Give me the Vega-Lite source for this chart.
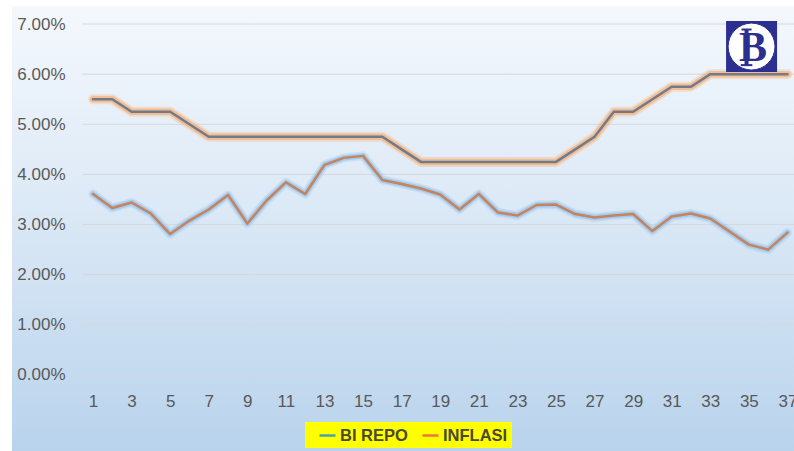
{
  "$schema": "https://vega.github.io/schema/vega-lite/v6.json",
  "width": 782,
  "height": 445,
  "autosize": {"type": "none"},
  "padding": {"left": 12, "top": 6, "right": 0, "bottom": 0},
  "background": "#ffffff",
  "config": {
    "font": "Liberation Sans",
    "view": {
      "stroke": null,
      "fill": {
        "gradient": "linear", "x1": 0, "y1": 0, "x2": 0, "y2": 1,
        "stops": [
          {"offset": 0, "color": "#f4f8fd"},
          {"offset": 0.45, "color": "#dce9f6"},
          {"offset": 1, "color": "#b9d3ec"}
        ]
      }
    },
    "axis": {
      "title": null, "ticks": false, "domain": false, "grid": false,
      "labelFontSize": 17, "labelColor": "#595959", "labelFont": "Liberation Sans"
    },
    "axisX": {"offset": -76, "labelPadding": 18, "labelFlush": false, "labelOverlap": false, "labelBound": false},
    "axisY": {"offset": -71, "labelPadding": 18},
    "legend": {
      "direction": "horizontal",
      "fillColor": "#ffff00",
      "padding": 4,
      "symbolType": "stroke",
      "symbolSize": 256,
      "symbolStrokeWidth": 2.5,
      "symbolOffset": 9,
      "labelFont": "Liberation Sans",
      "labelFontWeight": "bold",
      "labelFontSize": 16.5,
      "labelColor": "#4a4a30",
      "labelOffset": 3,
      "columnPadding": 4
    }
  },
  "datasets": {
    "series": [
      {"x": 1, "series": "BI REPO", "value": 0.055},
      {"x": 2, "series": "BI REPO", "value": 0.055},
      {"x": 3, "series": "BI REPO", "value": 0.0525},
      {"x": 4, "series": "BI REPO", "value": 0.0525},
      {"x": 5, "series": "BI REPO", "value": 0.0525},
      {"x": 6, "series": "BI REPO", "value": 0.05},
      {"x": 7, "series": "BI REPO", "value": 0.0475},
      {"x": 8, "series": "BI REPO", "value": 0.0475},
      {"x": 9, "series": "BI REPO", "value": 0.0475},
      {"x": 10, "series": "BI REPO", "value": 0.0475},
      {"x": 11, "series": "BI REPO", "value": 0.0475},
      {"x": 12, "series": "BI REPO", "value": 0.0475},
      {"x": 13, "series": "BI REPO", "value": 0.0475},
      {"x": 14, "series": "BI REPO", "value": 0.0475},
      {"x": 15, "series": "BI REPO", "value": 0.0475},
      {"x": 16, "series": "BI REPO", "value": 0.0475},
      {"x": 17, "series": "BI REPO", "value": 0.045},
      {"x": 18, "series": "BI REPO", "value": 0.0425},
      {"x": 19, "series": "BI REPO", "value": 0.0425},
      {"x": 20, "series": "BI REPO", "value": 0.0425},
      {"x": 21, "series": "BI REPO", "value": 0.0425},
      {"x": 22, "series": "BI REPO", "value": 0.0425},
      {"x": 23, "series": "BI REPO", "value": 0.0425},
      {"x": 24, "series": "BI REPO", "value": 0.0425},
      {"x": 25, "series": "BI REPO", "value": 0.0425},
      {"x": 26, "series": "BI REPO", "value": 0.045},
      {"x": 27, "series": "BI REPO", "value": 0.0475},
      {"x": 28, "series": "BI REPO", "value": 0.0525},
      {"x": 29, "series": "BI REPO", "value": 0.0525},
      {"x": 30, "series": "BI REPO", "value": 0.055},
      {"x": 31, "series": "BI REPO", "value": 0.0575},
      {"x": 32, "series": "BI REPO", "value": 0.0575},
      {"x": 33, "series": "BI REPO", "value": 0.06},
      {"x": 34, "series": "BI REPO", "value": 0.06},
      {"x": 35, "series": "BI REPO", "value": 0.06},
      {"x": 36, "series": "BI REPO", "value": 0.06},
      {"x": 37, "series": "BI REPO", "value": 0.06},
      {"x": 1, "series": "INFLASI", "value": 0.0361},
      {"x": 2, "series": "INFLASI", "value": 0.0333},
      {"x": 3, "series": "INFLASI", "value": 0.0344},
      {"x": 4, "series": "INFLASI", "value": 0.0322},
      {"x": 5, "series": "INFLASI", "value": 0.0281},
      {"x": 6, "series": "INFLASI", "value": 0.0308},
      {"x": 7, "series": "INFLASI", "value": 0.033},
      {"x": 8, "series": "INFLASI", "value": 0.0359},
      {"x": 9, "series": "INFLASI", "value": 0.0302},
      {"x": 10, "series": "INFLASI", "value": 0.0348},
      {"x": 11, "series": "INFLASI", "value": 0.0384},
      {"x": 12, "series": "INFLASI", "value": 0.0361},
      {"x": 13, "series": "INFLASI", "value": 0.0419},
      {"x": 14, "series": "INFLASI", "value": 0.0433},
      {"x": 15, "series": "INFLASI", "value": 0.0437},
      {"x": 16, "series": "INFLASI", "value": 0.0389},
      {"x": 17, "series": "INFLASI", "value": 0.0381},
      {"x": 18, "series": "INFLASI", "value": 0.0372},
      {"x": 19, "series": "INFLASI", "value": 0.036},
      {"x": 20, "series": "INFLASI", "value": 0.033},
      {"x": 21, "series": "INFLASI", "value": 0.0361},
      {"x": 22, "series": "INFLASI", "value": 0.0324},
      {"x": 23, "series": "INFLASI", "value": 0.0318},
      {"x": 24, "series": "INFLASI", "value": 0.0339},
      {"x": 25, "series": "INFLASI", "value": 0.034},
      {"x": 26, "series": "INFLASI", "value": 0.0321},
      {"x": 27, "series": "INFLASI", "value": 0.0314},
      {"x": 28, "series": "INFLASI", "value": 0.0318},
      {"x": 29, "series": "INFLASI", "value": 0.0321},
      {"x": 30, "series": "INFLASI", "value": 0.0287},
      {"x": 31, "series": "INFLASI", "value": 0.0316},
      {"x": 32, "series": "INFLASI", "value": 0.0322},
      {"x": 33, "series": "INFLASI", "value": 0.0312},
      {"x": 34, "series": "INFLASI", "value": 0.0286},
      {"x": 35, "series": "INFLASI", "value": 0.026},
      {"x": 36, "series": "INFLASI", "value": 0.025},
      {"x": 37, "series": "INFLASI", "value": 0.0284}
    ],
    "grid": [
      {"value": 0}, {"value": 0.01}, {"value": 0.02}, {"value": 0.03},
      {"value": 0.04}, {"value": 0.05}, {"value": 0.06}, {"value": 0.07}
    ],
    "logo": [{"name": "BI"}]
  },
  "layer": [
    {
      "data": {"name": "grid"},
      "mark": {"type": "rule", "stroke": "#d3d9e0", "strokeWidth": 1},
      "encoding": {
        "x": {"datum": 0.45, "type": "quantitative", "scale": {"domain": [-3.2, 37.34], "nice": false, "zero": false}, "axis": {"values": [1,3,5,7,9,11,13,15,17,19,21,23,25,27,29,31,33,35,37], "format": "d"}},
        "x2": {"datum": 37.6},
        "y": {"field": "value", "type": "quantitative", "scale": {"domain": [-0.01516, 0.07359], "nice": false, "zero": false}, "axis": {"values": [0, 0.01, 0.02, 0.03, 0.04, 0.05, 0.06, 0.07], "format": ".2%"}}
      }
    },
    {
      "data": {"name": "series"},
      "transform": [{"filter": "datum.series === 'BI REPO'"}],
      "mark": {"type": "line", "stroke": "#f5b98a", "strokeWidth": 10, "opacity": 0.35, "strokeJoin": "round", "strokeCap": "round"},
      "encoding": {
        "x": {"field": "x", "type": "quantitative", "scale": {"domain": [-3.2, 37.34], "nice": false, "zero": false}, "axis": {"values": [1,3,5,7,9,11,13,15,17,19,21,23,25,27,29,31,33,35,37], "format": "d"}},
        "y": {"field": "value", "type": "quantitative", "scale": {"domain": [-0.01516, 0.07359], "nice": false, "zero": false}, "axis": {"values": [0, 0.01, 0.02, 0.03, 0.04, 0.05, 0.06, 0.07], "format": ".2%"}}
      }
    },
    {
      "data": {"name": "series"},
      "transform": [{"filter": "datum.series === 'BI REPO'"}],
      "mark": {"type": "line", "stroke": "#f5b98a", "strokeWidth": 6.5, "opacity": 0.9, "strokeJoin": "round", "strokeCap": "round"},
      "encoding": {
        "x": {"field": "x", "type": "quantitative", "scale": {"domain": [-3.2, 37.34], "nice": false, "zero": false}, "axis": {"values": [1,3,5,7,9,11,13,15,17,19,21,23,25,27,29,31,33,35,37], "format": "d"}},
        "y": {"field": "value", "type": "quantitative", "scale": {"domain": [-0.01516, 0.07359], "nice": false, "zero": false}, "axis": {"values": [0, 0.01, 0.02, 0.03, 0.04, 0.05, 0.06, 0.07], "format": ".2%"}}
      }
    },
    {
      "data": {"name": "series"},
      "transform": [{"filter": "datum.series === 'BI REPO'"}],
      "mark": {"type": "line", "stroke": "#6e7c90", "strokeWidth": 2.5, "strokeJoin": "round", "strokeCap": "round"},
      "encoding": {
        "x": {"field": "x", "type": "quantitative", "scale": {"domain": [-3.2, 37.34], "nice": false, "zero": false}, "axis": {"values": [1,3,5,7,9,11,13,15,17,19,21,23,25,27,29,31,33,35,37], "format": "d"}},
        "y": {"field": "value", "type": "quantitative", "scale": {"domain": [-0.01516, 0.07359], "nice": false, "zero": false}, "axis": {"values": [0, 0.01, 0.02, 0.03, 0.04, 0.05, 0.06, 0.07], "format": ".2%"}}
      }
    },
    {
      "data": {"name": "series"},
      "transform": [{"filter": "datum.series === 'INFLASI'"}],
      "mark": {"type": "line", "stroke": "#9fc9ef", "strokeWidth": 9, "opacity": 0.35, "strokeJoin": "round", "strokeCap": "round"},
      "encoding": {
        "x": {"field": "x", "type": "quantitative", "scale": {"domain": [-3.2, 37.34], "nice": false, "zero": false}, "axis": {"values": [1,3,5,7,9,11,13,15,17,19,21,23,25,27,29,31,33,35,37], "format": "d"}},
        "y": {"field": "value", "type": "quantitative", "scale": {"domain": [-0.01516, 0.07359], "nice": false, "zero": false}, "axis": {"values": [0, 0.01, 0.02, 0.03, 0.04, 0.05, 0.06, 0.07], "format": ".2%"}}
      }
    },
    {
      "data": {"name": "series"},
      "transform": [{"filter": "datum.series === 'INFLASI'"}],
      "mark": {"type": "line", "stroke": "#9fc9ef", "strokeWidth": 5.5, "opacity": 0.9, "strokeJoin": "round", "strokeCap": "round"},
      "encoding": {
        "x": {"field": "x", "type": "quantitative", "scale": {"domain": [-3.2, 37.34], "nice": false, "zero": false}, "axis": {"values": [1,3,5,7,9,11,13,15,17,19,21,23,25,27,29,31,33,35,37], "format": "d"}},
        "y": {"field": "value", "type": "quantitative", "scale": {"domain": [-0.01516, 0.07359], "nice": false, "zero": false}, "axis": {"values": [0, 0.01, 0.02, 0.03, 0.04, 0.05, 0.06, 0.07], "format": ".2%"}}
      }
    },
    {
      "data": {"name": "series"},
      "transform": [{"filter": "datum.series === 'INFLASI'"}],
      "mark": {"type": "line", "stroke": "#c8835a", "strokeWidth": 2.5, "strokeJoin": "round", "strokeCap": "round"},
      "encoding": {
        "x": {"field": "x", "type": "quantitative", "scale": {"domain": [-3.2, 37.34], "nice": false, "zero": false}, "axis": {"values": [1,3,5,7,9,11,13,15,17,19,21,23,25,27,29,31,33,35,37], "format": "d"}},
        "y": {"field": "value", "type": "quantitative", "scale": {"domain": [-0.01516, 0.07359], "nice": false, "zero": false}, "axis": {"values": [0, 0.01, 0.02, 0.03, 0.04, 0.05, 0.06, 0.07], "format": ".2%"}}
      }
    },
    {
      "data": {"name": "series"},
      "transform": [{"filter": "false"}],
      "mark": {"type": "line", "strokeWidth": 2},
      "encoding": {
        "x": {"field": "x", "type": "quantitative", "scale": {"domain": [-3.2, 37.34], "nice": false, "zero": false}, "axis": {"values": [1,3,5,7,9,11,13,15,17,19,21,23,25,27,29,31,33,35,37], "format": "d"}},
        "y": {"field": "value", "type": "quantitative", "scale": {"domain": [-0.01516, 0.07359], "nice": false, "zero": false}, "axis": {"values": [0, 0.01, 0.02, 0.03, 0.04, 0.05, 0.06, 0.07], "format": ".2%"}},
        "color": {
          "field": "series", "type": "nominal",
          "scale": {"domain": ["BI REPO", "INFLASI"], "range": ["#4aa3a8", "#ee7a30"]},
          "legend": {"title": null, "orient": "none", "legendX": 293, "legendY": 416}
        }
      }
    },
    {
      "data": {"name": "logo"},
      "mark": {"type": "point", "shape": "square", "filled": true, "color": "#2b2f8f", "size": 2601, "opacity": 1},
      "encoding": {
        "x": {"datum": 35.14, "type": "quantitative", "scale": {"domain": [-3.2, 37.34], "nice": false, "zero": false}, "axis": {"values": [1,3,5,7,9,11,13,15,17,19,21,23,25,27,29,31,33,35,37], "format": "d"}},
        "y": {"datum": 0.0655, "type": "quantitative", "scale": {"domain": [-0.01516, 0.07359], "nice": false, "zero": false}, "axis": {"values": [0, 0.01, 0.02, 0.03, 0.04, 0.05, 0.06, 0.07], "format": ".2%"}}
      }
    },
    {
      "data": {"name": "logo"},
      "mark": {"type": "point", "shape": "circle", "filled": true, "fill": "#ffffff", "size": 2200, "opacity": 1, "stroke": "#2b2f8f", "strokeWidth": 1},
      "encoding": {
        "x": {"datum": 35.14, "type": "quantitative", "scale": {"domain": [-3.2, 37.34], "nice": false, "zero": false}, "axis": {"values": [1,3,5,7,9,11,13,15,17,19,21,23,25,27,29,31,33,35,37], "format": "d"}},
        "y": {"datum": 0.0655, "type": "quantitative", "scale": {"domain": [-0.01516, 0.07359], "nice": false, "zero": false}, "axis": {"values": [0, 0.01, 0.02, 0.03, 0.04, 0.05, 0.06, 0.07], "format": ".2%"}}
      }
    },
    {
      "data": {"name": "logo"},
      "mark": {"type": "rule", "stroke": "#2b2f8f", "strokeWidth": 4},
      "encoding": {
        "x": {"datum": 34.88, "type": "quantitative", "scale": {"domain": [-3.2, 37.34], "nice": false, "zero": false}, "axis": {"values": [1,3,5,7,9,11,13,15,17,19,21,23,25,27,29,31,33,35,37], "format": "d"}},
        "y": {"datum": 0.0690, "type": "quantitative", "scale": {"domain": [-0.01516, 0.07359], "nice": false, "zero": false}, "axis": {"values": [0, 0.01, 0.02, 0.03, 0.04, 0.05, 0.06, 0.07], "format": ".2%"}},
        "y2": {"datum": 0.0617}
      }
    },
    {
      "data": {"name": "logo"},
      "mark": {"type": "rule", "stroke": "#2b2f8f", "strokeWidth": 2},
      "encoding": {
        "x": {"datum": 34.62, "type": "quantitative", "scale": {"domain": [-3.2, 37.34], "nice": false, "zero": false}, "axis": {"values": [1,3,5,7,9,11,13,15,17,19,21,23,25,27,29,31,33,35,37], "format": "d"}},
        "x2": {"datum": 35.14},
        "y": {"datum": 0.0689, "type": "quantitative", "scale": {"domain": [-0.01516, 0.07359], "nice": false, "zero": false}, "axis": {"values": [0, 0.01, 0.02, 0.03, 0.04, 0.05, 0.06, 0.07], "format": ".2%"}}
      }
    },
    {
      "data": {"name": "logo"},
      "mark": {"type": "rule", "stroke": "#2b2f8f", "strokeWidth": 2},
      "encoding": {
        "x": {"datum": 34.58, "type": "quantitative", "scale": {"domain": [-3.2, 37.34], "nice": false, "zero": false}, "axis": {"values": [1,3,5,7,9,11,13,15,17,19,21,23,25,27,29,31,33,35,37], "format": "d"}},
        "x2": {"datum": 35.18},
        "y": {"datum": 0.0618, "type": "quantitative", "scale": {"domain": [-0.01516, 0.07359], "nice": false, "zero": false}, "axis": {"values": [0, 0.01, 0.02, 0.03, 0.04, 0.05, 0.06, 0.07], "format": ".2%"}}
      }
    },
    {
      "data": {"name": "logo"},
      "mark": {"type": "text", "text": "B", "font": "Liberation Serif", "fontWeight": "bold", "fontSize": 42, "color": "#2b2f8f", "baseline": "middle", "align": "center", "dy": 1},
      "encoding": {
        "x": {"datum": 35.22, "type": "quantitative", "scale": {"domain": [-3.2, 37.34], "nice": false, "zero": false}, "axis": {"values": [1,3,5,7,9,11,13,15,17,19,21,23,25,27,29,31,33,35,37], "format": "d"}},
        "y": {"datum": 0.0655, "type": "quantitative", "scale": {"domain": [-0.01516, 0.07359], "nice": false, "zero": false}, "axis": {"values": [0, 0.01, 0.02, 0.03, 0.04, 0.05, 0.06, 0.07], "format": ".2%"}}
      }
    }
  ]
}
